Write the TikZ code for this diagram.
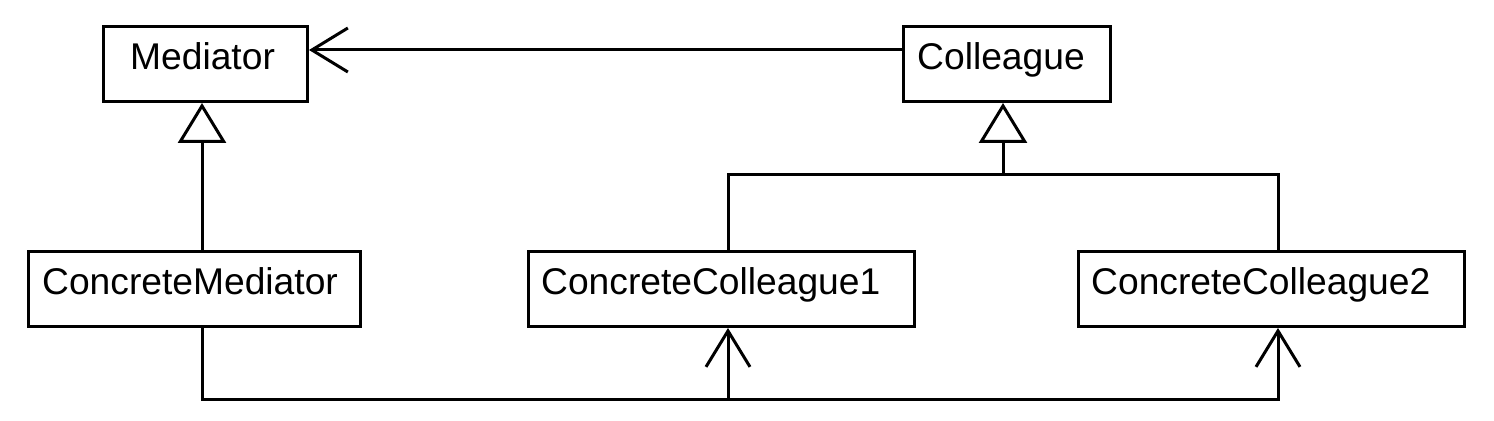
\documentclass[tikz,border=0pt]{standalone}
\usepackage{fontspec}
\setmainfont{Liberation Sans}
\usetikzlibrary{arrows.meta}

\begin{document}
\begin{tikzpicture}[x=0.5pt, y=-0.5pt]
\useasboundingbox (0,0) rectangle (1494,421);
\begin{scope}[every node/.style={draw,line width=1.5pt,align=left,
              minimum height=37.5pt,text height=14pt,text depth=8pt,
              font=\fontsize{18.6}{22}\selectfont}]
    \node [inner xsep=13.35pt,text width=75.3pt] (Mediator) at (205.5, 64) {Mediator};
    \node [inner xsep=6.85pt,text width=89.8pt] (Colleague) at (1007, 64) {Colleague};
    \node [inner xsep=6.85pt,text width=152.3pt] (ConcreteMediator) at (194.5, 289) {ConcreteMediator};
    \node [inner xsep=6.35pt,text width=180.3pt] (ConcreteColleague1) at (721.5, 289) {ConcreteColleague1};
    \node [inner xsep=6.35pt,text width=180.3pt] (ConcreteColleague2) at (1271.5, 289) {ConcreteColleague2};
\end{scope}
\begin{scope}[line width=1.5pt,
              plain_edge/.style={draw},
              assoc_edge/.style={draw,-{Straight Barb[length=18pt,width=22pt]}},
              gen_edge/.style={draw,-{Triangle[open,length=20pt,width=24pt]}}]
    \coordinate (Fork) at (1003, 175);
    \coordinate (BusMid) at (728, 400);
    \coordinate (BusEnd) at (1278, 400);
    \path ([yshift=7pt]Colleague.west) edge [assoc_edge] ([yshift=7pt]Mediator.east);
    \path ([xshift=3.75pt]ConcreteMediator.north) edge [gen_edge] ([xshift=-1.75pt]Mediator.south);
    \path (Fork) edge [gen_edge] ([xshift=-2pt]Colleague.south);
    \draw [plain_edge] ([xshift=3.25pt]ConcreteColleague1.north) |- (Fork) -| ([xshift=3.25pt]ConcreteColleague2.north);
    \draw [assoc_edge] ([xshift=3.75pt]ConcreteMediator.south) |- (BusEnd) -- ([xshift=3.25pt]ConcreteColleague2.south);
    \path (BusMid) edge [assoc_edge] ([xshift=3.25pt]ConcreteColleague1.south);
\end{scope}
\end{tikzpicture}
\end{document}
